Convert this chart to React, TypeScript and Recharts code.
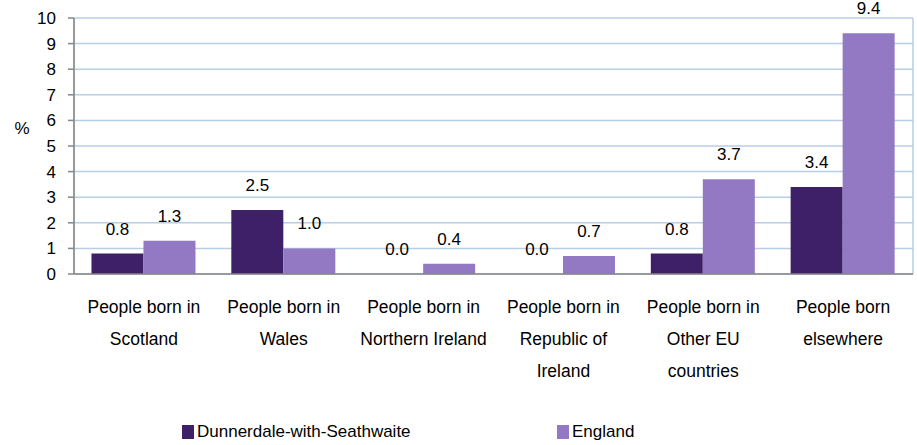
import { Bar, BarChart, CartesianGrid, LabelList, Legend, XAxis, YAxis } from "recharts";

const categories = [
  ["People born in", "Scotland"],
  ["People born in", "Wales"],
  ["People born in", "Northern Ireland"],
  ["People born in", "Republic of", "Ireland"],
  ["People born in", "Other EU", "countries"],
  ["People born", "elsewhere"],
];
const dunnerdale = [0.8, 2.5, 0.0, 0.0, 0.8, 3.4];
const england = [1.3, 1.0, 0.4, 0.7, 3.7, 9.4];
const yTicks = [0, 1, 2, 3, 4, 5, 6, 7, 8, 9, 10];
const boundaryTicks = [0, 1, 2, 3, 4, 5, 6];

const DARK = "#3E2068";
const LIGHT = "#9379C4";
const AXIS = "#868686";
const GRID = "#B9CDE5";
const FONT = "'Liberation Sans', Arial, sans-serif";

const data = categories.map((c, i) => ({
  name: c.join(" "),
  dunnerdale: dunnerdale[i],
  england: england[i],
}));

const CatTick = (props: any) => {
  const { x, y, index } = props;
  const lines = categories[index] || [];
  return (
    <g>
      {lines.map((l, i) => (
        <text key={i} x={x} y={y + 39 + i * 32} textAnchor="middle" fontSize={17.5} fill="#000" fontFamily={FONT}>
          {l}
        </text>
      ))}
    </g>
  );
};

const ValueLabel = (props: any) => {
  const { x, y, width, value } = props;
  return (
    <text x={x + width / 2} y={y - 19} textAnchor="middle" fontSize={17} fill="#000" fontFamily={FONT}>
      {Number(value).toFixed(1)}
    </text>
  );
};

const LegendBox = () => (
  <div style={{ position: "relative", height: 30, fontFamily: FONT, fontSize: 17, color: "#000" }}>
    <div style={{ position: "absolute", left: 174, top: 7, display: "flex", alignItems: "center" }}>
      <span style={{ width: 12, height: 14, background: DARK, display: "inline-block", marginRight: 3 }} />
      Dunnerdale-with-Seathwaite
    </div>
    <div style={{ position: "absolute", left: 549, top: 7, display: "flex", alignItems: "center" }}>
      <span style={{ width: 12, height: 14, background: LIGHT, display: "inline-block", marginRight: 3 }} />
      England
    </div>
  </div>
);

export default function App() {
  return (
    <div style={{ position: "absolute", top: 0, left: 8 }}>
      <BarChart
        width={909}
        height={445}
        data={data}
        margin={{ top: 18, right: 4, left: 0, bottom: 0 }}
        barCategoryGap="12.5%"
        barGap={0}
        style={{ fontFamily: FONT, overflow: "visible" }}
      >
        <CartesianGrid stroke={GRID} strokeWidth={1.5} xAxisId={0} />
        <XAxis
          xAxisId={0}
          type="number"
          domain={[0, 6]}
          ticks={boundaryTicks}
          tick={false}
          axisLine={false}
          tickLine={{ stroke: AXIS, strokeWidth: 1.5 }}
          tickSize={6}
          height={0}
        />
        <XAxis
          xAxisId="cat"
          dataKey="name"
          height={141}
          tick={<CatTick />}
          tickLine={false}
          tickSize={0}
          tickMargin={0}
          interval={0}
          axisLine={{ stroke: AXIS, strokeWidth: 1.5 }}
        />
        <YAxis
          width={66}
          domain={[0, 10]}
          ticks={yTicks}
          interval={0}
          tickSize={6}
          tickMargin={12}
          tick={{ fill: "#000", fontSize: 17, fontFamily: FONT }}
          tickLine={{ stroke: AXIS, strokeWidth: 1.5 }}
          axisLine={{ stroke: AXIS, strokeWidth: 1.5 }}
          label={{
            content: (p: any) => (
              <text x={p.viewBox.x + 14} y={p.viewBox.y + 116} textAnchor="middle" fontSize={17} fill="#000" fontFamily={FONT}>
                %
              </text>
            ),
          }}
        />
        <Legend verticalAlign="bottom" height={30} content={<LegendBox />} />
        <Bar xAxisId="cat" dataKey="dunnerdale" name="Dunnerdale-with-Seathwaite" fill={DARK} minPointSize={0.01} isAnimationActive={false}>
          <LabelList dataKey="dunnerdale" content={<ValueLabel />} />
        </Bar>
        <Bar xAxisId="cat" dataKey="england" name="England" fill={LIGHT} minPointSize={0.01} isAnimationActive={false}>
          <LabelList dataKey="england" content={<ValueLabel />} />
        </Bar>
      </BarChart>
    </div>
  );
}
